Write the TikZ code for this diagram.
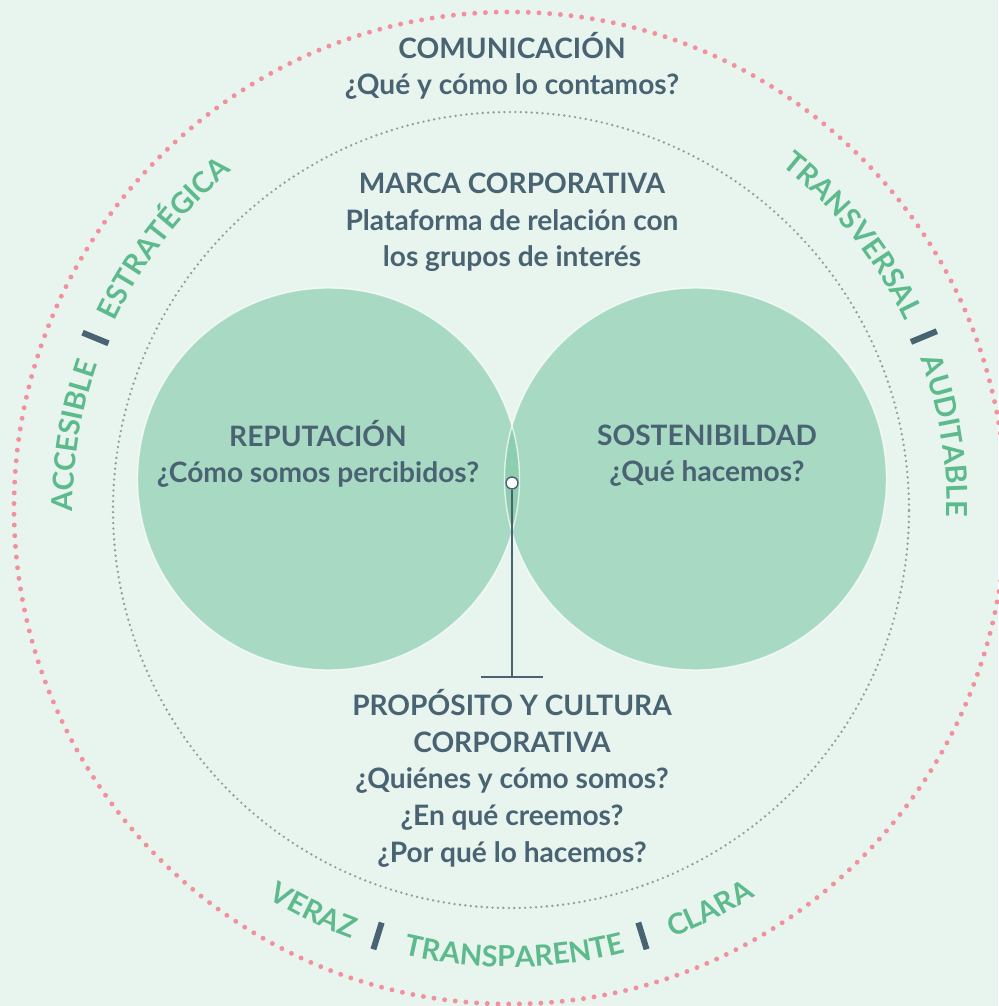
\documentclass[tikz,border=0pt]{standalone}
\usepackage{fontspec}
\setmainfont{Lato}
\usetikzlibrary{decorations.text}

\definecolor{mint}{HTML}{E8F5EE}
\definecolor{discgreen}{HTML}{A8D9C3}
\definecolor{lensgreen}{HTML}{8FCDB0}
\definecolor{slate}{HTML}{4A6373}
\definecolor{leafgreen}{HTML}{5DBA8D}
\definecolor{dotpink}{HTML}{F2909E}
\definecolor{dotgray}{HTML}{9A9A9A}

\newcommand{\headfont}{\fontsize{16}{20.8}\selectfont\bfseries}
\newcommand{\arcfont}{\fontsize{16.5}{20}\selectfont\bfseries}

\tikzset{
  heading/.style={
    text=slate,
    font=\headfont,
    align=center,
    inner sep=0pt,
    anchor=base,
  },
  pink ring/.style={
    draw=dotpink, line width=2.8pt, line cap=round,
    dash pattern=on 0pt off 6.1pt,
  },
  gray ring/.style={
    draw=dotgray, line width=1.5pt, line cap=round,
    dash pattern=on 0pt off 3.1pt,
  },
  arc label/.style={
    decorate,
    decoration={text along path, text align=center,
      text color=leafgreen, text={|\arcfont|#1}},
  },
  divider/.style={
    draw=slate,
    line width=3.4pt,
  },
  stem line/.style={
    draw=slate,
    line width=0.8pt,
  },
}

\begin{document}
\begin{tikzpicture}[x=0.02cm, y=0.02cm]
  \useasboundingbox (-510,-498) rectangle (488,508);
  \fill[mint] (-510,-498) rectangle (488,508);

  % rings
  \draw[gray ring] (1,-2) circle[radius=398];
  \draw[pink ring] (0,0) circle[radius=496];

  % the two discs and their overlap
  \coordinate (rep) at (-181.5,29);
  \coordinate (sos) at (185.5,29);
  \fill[discgreen] (rep) circle[radius=191];
  \fill[discgreen] (sos) circle[radius=191];
  \begin{scope}
    \clip (rep) circle[radius=191];
    \fill[lensgreen] (sos) circle[radius=191];
  \end{scope}
  \draw[white, opacity=0.7, line width=0.8pt] (rep) circle[radius=191];
  \draw[white, opacity=0.7, line width=0.8pt] (sos) circle[radius=191];

  % pin from the overlap down to the base
  \node[circle, draw=slate, fill=white, line width=0.8pt, inner sep=0pt,
        minimum size=6.8pt] (core) at (2,25) {};
  \coordinate (stem) at (2,-169);
  \draw[stem line] (core) -- (stem);
  \draw[stem line] ([xshift=-0.62cm]stem) -- ([xshift=0.62cm]stem);

  % texts (base = last line)
  \node[heading] (comm) at (2,413) {COMUNICACIÓN\\¿Qué y cómo lo contamos?};
  \node[heading] (brand) at (2,241) {MARCA CORPORATIVA\\Plataforma de relación con\\los grupos de interés};
  \node[heading] (reput) at (-192,25) {REPUTACIÓN\\¿Cómo somos percibidos?};
  \node[heading] (sust) at (197,26) {SOSTENIBILDAD\\¿Qué hacemos?};
  \node[heading] (purpose) at (2,-354) {PROPÓSITO Y CULTURA\\CORPORATIVA\\¿Quiénes y cómo somos?\\¿En qué creemos?\\¿Por qué lo hacemos?};

  % words around the ring
  \foreach \ang/\word in {170.6/ACCESIBLE, 142.1/ESTRATÉGICA, 38.5/TRANSVERSAL, 9.4/AUDITABLE}
    \path[arc label=\word] (\ang+25:437) arc[start angle=\ang+25, end angle=\ang-25, radius=437];
  \foreach \ang/\word in {244/VERAZ, 270.6/TRANSPARENTE, 296.5/CLARA}
    \path[arc label=\word] (\ang-25:459) arc[start angle=\ang-25, end angle=\ang+25, radius=459];
  \foreach \ang in {157.7, 22.5, 252.8, 287.2}
    \draw[divider] (\ang:434) -- (\ang:462);
\end{tikzpicture}
\end{document}
